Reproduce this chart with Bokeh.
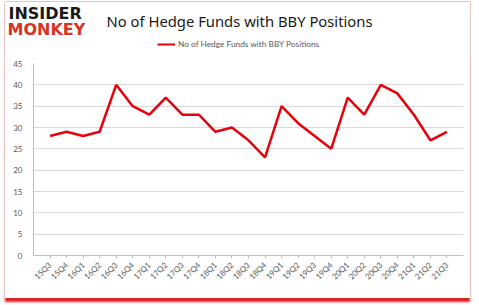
from bokeh.plotting import figure
from bokeh.models import Label, Legend, LegendItem, FactorRange, SingleIntervalTicker, Range1d
from bokeh.embed import file_html
from bokeh.resources import INLINE

quarters = ["15Q3", "15Q4", "16Q1", "16Q2", "16Q3", "16Q4", "17Q1", "17Q2", "17Q3", "17Q4",
            "18Q1", "18Q2", "18Q3", "18Q4", "19Q1", "19Q2", "19Q3", "19Q4", "20Q1", "20Q2",
            "20Q3", "20Q4", "21Q1", "21Q2", "21Q3"]
funds = [28, 29, 28, 29, 40, 35, 33, 37, 33, 33, 29, 30, 27, 23, 35, 31, 28, 25, 37, 33,
         40, 38, 33, 27, 29]
title_text = "No of Hedge Funds with BBY Positions"

W = 465
H1 = 54
H2 = 242
LINE_COLOR = "#e8000b"
FRAME = "#e8c4c4"

# ---- header (logo, title, legend) ----
hdr = figure(width=W, height=H1, x_range=Range1d(0, W), y_range=Range1d(0, H1),
             x_axis_location=None, y_axis_location=None,
             output_backend="svg", toolbar_location=None,
             min_border=0, min_border_left=0, min_border_right=0,
             min_border_top=0, min_border_bottom=0)
hdr.grid.visible = False
hdr.outline_line_color = None
hdr.background_fill_color = "white"
hdr.border_fill_color = "white"
hdr.margin = (2, 9, 0, 5)
hdr.styles = {"box-shadow": f"-1px 0 0 0 {FRAME}, 1px 0 0 0 {FRAME}, 0 -1px 0 0 {FRAME}"}

hdr.add_layout(Label(x=3, y=34, text="INSIDER", text_font="DejaVu Sans",
                     text_font_style="bold", text_font_size="16px", text_color="#1a1a1a"))
hdr.add_layout(Label(x=2, y=18, text="MONKEY", text_font="DejaVu Sans",
                     text_font_style="bold", text_font_size="16px", text_color="#d9341f"))
hdr.add_layout(Label(x=101, y=36, text=title_text, text_font="Noto Sans",
                     text_font_size="14.8px", text_color="#1a1a1a", text_baseline="middle"))

# legend key: a renderer with no visible points, only used for the legend swatch
key = hdr.line(x=[0.0], y=[float("nan")], line_color=LINE_COLOR, line_width=2)
legend = Legend(items=[LegendItem(label=title_text, renderers=[key])],
                location=(152, 7), orientation="horizontal",
                label_text_font="Lato", label_text_font_size="8.3px",
                label_text_color="#595959", glyph_width=18, glyph_height=10,
                label_standoff=3, background_fill_alpha=0, border_line_color=None,
                padding=0, margin=0)
hdr.add_layout(legend)

# ---- main chart ----
p = figure(width=W, height=H2, x_range=FactorRange(*quarters), y_range=Range1d(0, 45),
           output_backend="svg", toolbar_location=None,
           min_border_left=28, min_border_right=7, min_border_top=7, min_border_bottom=43)
p.margin = (0, 9, 7, 5)
p.styles = {"box-shadow": f"-1px 0 0 0 {FRAME}, 1px 0 0 0 {FRAME}, 0 4px 2px 0 #e02020"}
p.x_range.factor_padding = 0.0
p.x_range.range_padding = 0.04
p.background_fill_color = "white"
p.border_fill_color = "white"
p.outline_line_color = None

p.line(quarters, funds, line_color=LINE_COLOR, line_width=2.5)

p.yaxis.ticker = SingleIntervalTicker(interval=5)
p.ygrid.grid_line_color = "#d9d9d9"
p.ygrid.grid_line_width = 1
p.xgrid.grid_line_color = None
for ax in (p.xaxis, p.yaxis):
    ax.axis_line_color = "#bfbfbf"
    ax.major_label_text_color = "#595959"
    ax.major_label_text_font = "Lato"
    ax.major_label_text_font_size = "8px"
    ax.minor_tick_line_color = None
p.yaxis.major_tick_line_color = None
p.xaxis.major_tick_line_color = "#bfbfbf"
p.xaxis.major_tick_in = 0
p.xaxis.major_tick_out = 3
p.xaxis.major_label_orientation = 0.785

open("out.html", "w").write(file_html([hdr, p], INLINE))
